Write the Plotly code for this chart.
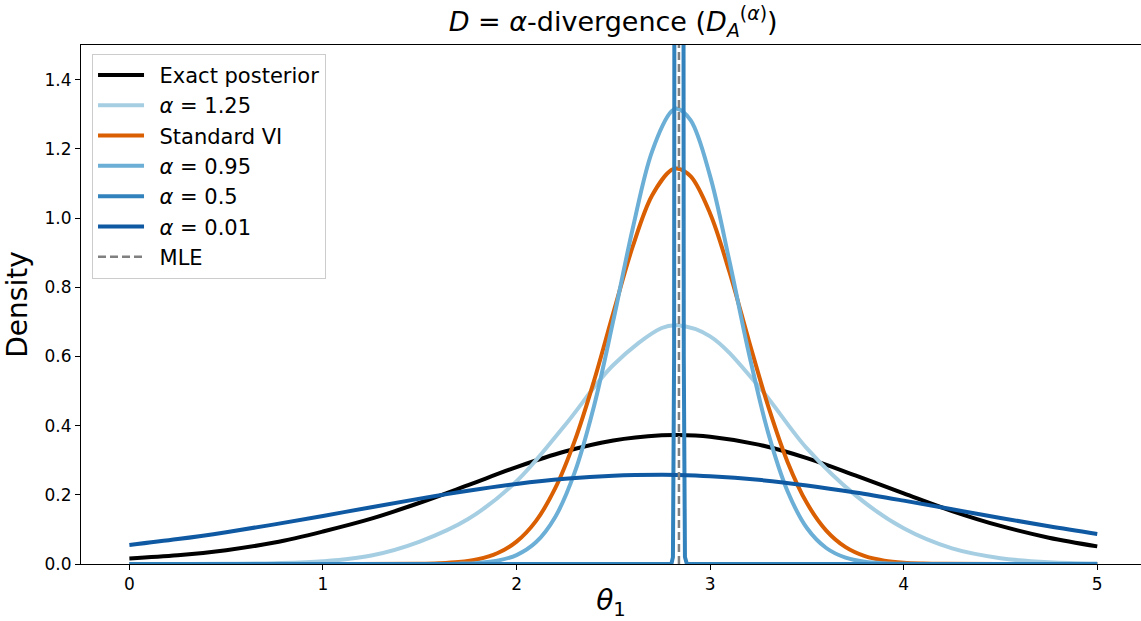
import plotly.graph_objects as go

# grid for the broad curves
X_WIDE = [0.0, 0.25, 0.5, 0.75, 1.0, 1.25, 1.5, 1.75, 2.0, 2.25, 2.5, 2.75, 2.83,
          3.0, 3.25, 3.5, 3.75, 4.0, 4.25, 4.5, 4.75, 5.0]
EXACT = [0.016, 0.025, 0.040, 0.062, 0.094, 0.131, 0.177, 0.228, 0.280, 0.325, 0.357,
         0.372, 0.373, 0.368, 0.345, 0.306, 0.256, 0.204, 0.153, 0.110, 0.076, 0.051]
ALPHA_125 = [0.0, 0.0001, 0.0005, 0.0021, 0.0079, 0.0247, 0.065, 0.130, 0.239, 0.401,
             0.575, 0.682, 0.690, 0.658, 0.514, 0.334, 0.199, 0.103, 0.045, 0.0168,
             0.005, 0.0013]
ALPHA_001 = [0.0549, 0.0720, 0.0920, 0.1146, 0.1389, 0.1642, 0.1890, 0.2118, 0.2315,
             0.2464, 0.2554, 0.2580, 0.2574, 0.2538, 0.2433, 0.2271, 0.2067, 0.1831,
             0.1581, 0.1330, 0.1090, 0.0870]

# grid for the narrow curves
X_NARROW = [0.0, 0.5, 1.0, 1.5, 1.6, 1.7, 1.8, 1.9, 2.0, 2.1, 2.2, 2.3, 2.4, 2.5, 2.6,
            2.7, 2.8, 2.83, 2.9, 3.0, 3.1, 3.2, 3.3, 3.4, 3.5, 3.6, 3.7, 3.8, 3.9, 4.0,
            4.1, 4.2, 4.5, 5.0]
STANDARD_VI = [0.0, 0.0, 0.0, 0.0007, 0.0021, 0.0056, 0.0138, 0.0311, 0.0648, 0.124,
               0.219, 0.355, 0.529, 0.726, 0.917, 1.065, 1.139, 1.143, 1.120, 1.013,
               0.844, 0.646, 0.456, 0.295, 0.176, 0.0967, 0.0488, 0.0227, 0.0097,
               0.0038, 0.0014, 0.0004, 0.0, 0.0]
ALPHA_095 = [0.0, 0.0, 0.0, 0.0, 0.0002, 0.0009, 0.0031, 0.0095, 0.0258, 0.0627, 0.136,
             0.264, 0.456, 0.704, 0.969, 1.192, 1.308, 1.316, 1.282, 1.121, 0.875,
             0.610, 0.379, 0.2105, 0.104, 0.0462, 0.0182, 0.0064, 0.0020, 0.0005,
             0.0001, 0.0, 0.0, 0.0]

# alpha = 0.5 collapses to a spike at the MLE
X_SPIKE = [0.0, 2.80, 2.808, 2.814, 2.82, 2.839, 2.858, 2.864, 2.87, 2.88, 5.0]
ALPHA_05 = [0.0, 0.0, 0.02, 0.6, 5.0, 40.0, 5.0, 0.6, 0.02, 0.0, 0.0]

MLE_X = 2.839
Y_RANGE = [0.0, 1.5]
X_RANGE = [-0.25, 5.226]

FONT = "DejaVu Sans"
GAP = "\u2002"  # a little extra room between legend line and label

series = [
    ("Exact posterior", X_WIDE, EXACT, "#000000", "spline"),
    ("<i>α</i> = 1.25", X_WIDE, ALPHA_125, "#a6cee3", "spline"),
    ("Standard VI", X_NARROW, STANDARD_VI, "#d95f02", "spline"),
    ("<i>α</i> = 0.95", X_NARROW, ALPHA_095, "#6baed6", "spline"),
    ("<i>α</i> = 0.5", X_SPIKE, ALPHA_05, "#3182bd", "linear"),
    ("<i>α</i> = 0.01", X_WIDE, ALPHA_001, "#0f59a3", "spline"),
]

fig = go.Figure()
for i, (name, xs, ys, color, shape) in enumerate(series):
    fig.add_trace(go.Scatter(
        x=xs, y=ys, mode="lines", name=GAP + name, legendgroup=f"g{i}",
        line=dict(color=color, width=4, shape=shape),
    ))

fig.add_trace(go.Scatter(
    x=[MLE_X, MLE_X], y=Y_RANGE, mode="lines", name=GAP + "MLE", legendgroup="mle",
    line=dict(color="#808080", width=2.5, dash="8px,4px"),
))

fig.update_layout(
    width=1141, height=621,
    margin=dict(l=81, r=0, t=45, b=57),
    paper_bgcolor="white", plot_bgcolor="white",
    font=dict(family=FONT, size=17, color="black"),
    title=dict(
        text="<i>D</i> = <i>α</i>-divergence (<i>D</i><sub><i>A</i></sub><sup>(<i>α</i>)</sup>)",
        x=0.502, xref="paper", xanchor="center",
        y=0.965, yref="container", yanchor="middle",
        font=dict(size=27),
    ),
    legend=dict(
        x=0.0104, y=0.983, xanchor="left", yanchor="top",
        bgcolor="rgba(255,255,255,0.8)", bordercolor="#cccccc", borderwidth=1,
        font=dict(size=21), tracegroupgap=0, itemwidth=46,
    ),
    showlegend=True,
)

fig.update_xaxes(
    range=X_RANGE, tickvals=[0, 1, 2, 3, 4, 5], ticks="outside", ticklen=5,
    tickcolor="black", showline=True, linecolor="black", linewidth=1.1, mirror=True,
    showgrid=False, zeroline=False, tickfont=dict(size=17), automargin=False,
    title=dict(text="<i>θ</i><sub>1</sub>", font=dict(size=28), standoff=8),
)
fig.update_yaxes(
    range=Y_RANGE, tickvals=[0, 0.2, 0.4, 0.6, 0.8, 1.0, 1.2, 1.4], tickformat=".1f",
    ticks="outside", ticklen=5, tickcolor="black", showline=True, linecolor="black",
    linewidth=1.1, showgrid=False, zeroline=False, tickfont=dict(size=17),
    automargin=False,
    title=dict(text="Density", font=dict(size=28), standoff=8),
)

# drop the default page margin so the figure sits at the window's corner
fig.write_html(
    "out.html",
    config={"displayModeBar": False},
    post_script="document.body.style.margin='0';document.body.style.overflow='hidden';",
)
